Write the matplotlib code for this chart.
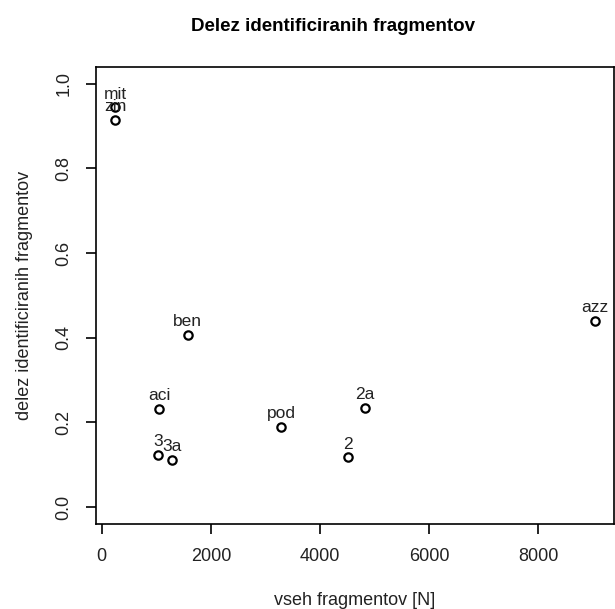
import matplotlib
matplotlib.use("Agg")
import matplotlib.pyplot as plt
from matplotlib.ticker import FormatStrFormatter

plt.rcParams['font.family'] = ['Liberation Sans', 'DejaVu Sans']

# data
labels = ['mit', 'zin', 'ben', 'aci', '3', '3a', 'pod', '2', '2a', 'azz']
n_all = [244, 244, 1575, 1055, 1026, 1282, 3289, 4505, 4822, 9033]
share = [0.944, 0.915, 0.407, 0.232, 0.124, 0.111, 0.189, 0.117, 0.234, 0.440]

x_ticks = [0, 2000, 4000, 6000, 8000]
y_ticks = [0.0, 0.2, 0.4, 0.6, 0.8, 1.0]

fig = plt.figure(figsize=(6.15, 6.09), dpi=100)
ax = fig.add_axes([0.156, 0.1396, 0.842, 0.751])

ax.plot(n_all, share, 'o', markerfacecolor='none', markeredgecolor='black',
        markersize=6, markeredgewidth=1.6)

for lab, x, y in zip(labels, n_all, share):
    ax.annotate(lab, (x, y), xytext=(0, 4), textcoords='offset points',
                ha='center', va='bottom', fontsize=12.5, color='#222222')

xmin, xmax = min(n_all), max(n_all)
pad = 0.04 * (xmax - xmin)
ax.set_xlim(xmin - pad, xmax + pad)
ax.set_ylim(-0.04, 1.04)

ax.set_xticks(x_ticks)
ax.set_yticks(y_ticks)
ax.yaxis.set_major_formatter(FormatStrFormatter('%.1f'))
ax.tick_params(direction='out', length=7, width=1.2, labelsize=13,
               labelcolor='#222222', pad=10)
for lbl in ax.get_yticklabels():
    lbl.set_rotation(90)
    lbl.set_va('center')

for s in ax.spines.values():
    s.set_linewidth(1.2)

ax.set_xlabel('vseh fragmentov [N]', fontsize=13, color='#222222', labelpad=20)
ax.set_ylabel('delez identificiranih fragmentov', fontsize=13, color='#222222', labelpad=16)
fig.suptitle('Delez identificiranih fragmentov', fontsize=13.5, fontweight='bold',
             x=0.541, y=0.97)

fig.savefig('out.png', dpi=100)
